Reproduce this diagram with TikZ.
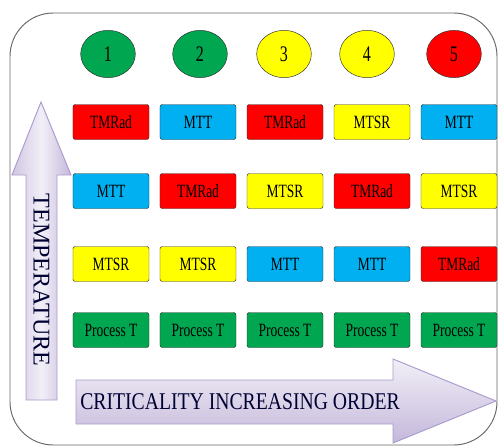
\documentclass[tikz,border=0pt]{standalone}
\usepackage{fontspec}
\setmainfont{Liberation Serif}
\newfontfamily\narrowfont[FakeStretch=0.72]{Liberation Serif}
\newfontfamily\midfont[FakeStretch=0.82]{Liberation Serif}
\usetikzlibrary{shapes.geometric}

\definecolor{boxred}{RGB}{255,0,0}
\definecolor{boxblue}{RGB}{0,176,240}
\definecolor{boxyellow}{RGB}{255,255,0}
\definecolor{boxgreen}{RGB}{0,166,80}
\definecolor{lavlight}{RGB}{242,239,247}
\definecolor{lavdark}{RGB}{196,184,218}
\definecolor{lavedge}{RGB}{170,155,205}

\tikzset{
  cell/.style={draw=black!80, rounded corners=2pt, minimum width=2.28cm, minimum height=1.05cm,
    inner sep=0pt, font=\narrowfont\fontsize{16}{18}\selectfont},
  numdot/.style={ellipse, draw=black!80, minimum width=1.64cm, minimum height=1.42cm,
    inner sep=0pt, font=\narrowfont\fontsize{19}{21}\selectfont},
  bigarrow/.style={draw=lavedge, line width=0.8pt},
}

\begin{document}
\begin{tikzpicture}[x=0.03cm, y=-0.03cm]  % 1 единица = 1 пиксель
    \useasboundingbox (0,0) rectangle (498,446);
    % Рамка
    \draw[black!60, line width=0.8pt, rounded corners=1.3cm] (10,13) rectangle (497,445);

    % Стрелка температуры
    \shade[bigarrow, left color=lavdark!80, right color=lavdark, middle color=lavlight]
        (26,400) -- (26,175) -- (12,175) -- (41,102) -- (71,175) -- (57,175) -- (57,400) -- cycle;
    \node[rotate=-90, font=\fontsize{20.5}{22}\selectfont, text=black!80!blue] (temp) at (41.5,280) {TEMPERATURE};

    % Стрелка критичности
    \shade[bigarrow, top color=lavlight, bottom color=lavdark]
        (76,380) -- (393,380) -- (393,359) -- (496,401) -- (393,443) -- (393,424) -- (76,424) -- cycle;
    \node[font=\midfont\fontsize{20.5}{22}\selectfont, text=black!80!blue] (crit) at (240,402) {CRITICALITY INCREASING ORDER};

    % Номера
    \foreach \x/\c [count=\i] in {108/boxgreen, 200/boxgreen, 284/boxyellow, 367/boxyellow, 454/boxred}
        \node[numdot, fill=\c] (n\i) at (\x,54) {\i};

    % Ряды параметров
    \foreach \c/\t [count=\i] in {boxred/TMRad, boxblue/MTT, boxred/TMRad, boxyellow/MTSR, boxblue/MTT}
        \node[cell, fill=\c] (a\i) at ({111+87*(\i-1)},122) {\t};
    \foreach \c/\t [count=\i] in {boxblue/MTT, boxred/TMRad, boxyellow/MTSR, boxred/TMRad, boxyellow/MTSR}
        \node[cell, fill=\c] (b\i) at ({111+87*(\i-1)},191) {\t};
    \foreach \c/\t [count=\i] in {boxyellow/MTSR, boxyellow/MTSR, boxblue/MTT, boxblue/MTT, boxred/TMRad}
        \node[cell, fill=\c] (c\i) at ({111+87*(\i-1)},264) {\t};
    \foreach \i in {1,...,5}
        \node[cell, fill=boxgreen] (d\i) at ({111+87*(\i-1)},330) {Process T};
\end{tikzpicture}
\end{document}
